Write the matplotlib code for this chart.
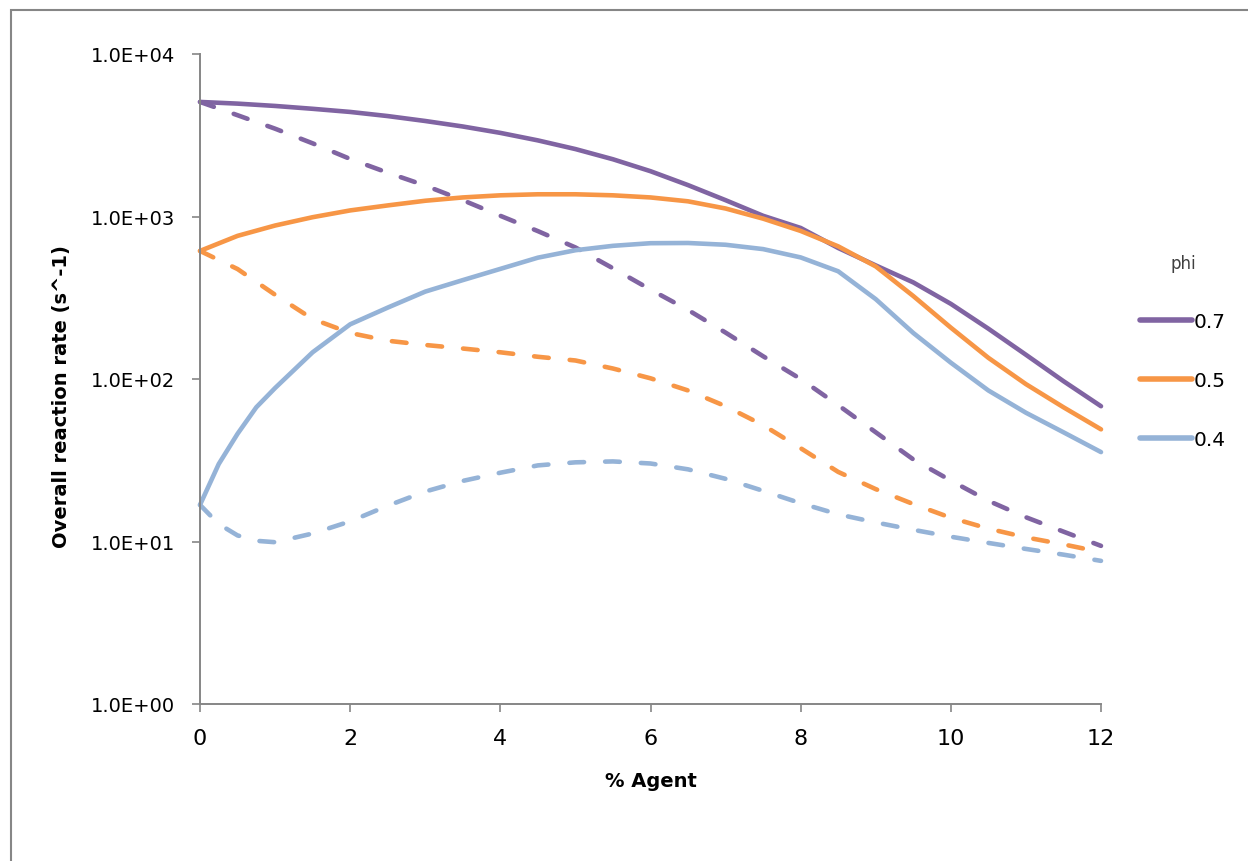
import numpy as np
import matplotlib
matplotlib.use("Agg")
from matplotlib import pyplot as plt
from matplotlib.lines import Line2D
from matplotlib.patches import Rectangle
from matplotlib.ticker import FixedLocator, FuncFormatter, NullLocator

# % agent values
x_half = [0, 0.5, 1, 1.5, 2, 2.5, 3, 3.5, 4, 4.5, 5, 5.5, 6, 6.5,
          7, 7.5, 8, 8.5, 9, 9.5, 10, 10.5, 11, 11.5, 12]
x_blue = [0, 0.25, 0.5, 0.75, 1, 1.5, 2, 2.5, 3, 3.5, 4, 4.5, 5, 5.5, 6, 6.5,
          7, 7.5, 8, 8.5, 9, 9.5, 10, 10.5, 11, 11.5, 12]

# phi = 0.7
rate_07_solid = [5070, 4950, 4790, 4600, 4400, 4150, 3870, 3580, 3270, 2940,
                 2600, 2250, 1900, 1560, 1260, 1010, 850, 640, 500, 393,
                 290, 204, 141, 97, 68]
rate_07_dash = [5070, 4200, 3470, 2820, 2260, 1860, 1550, 1260, 1010, 813,
                645, 480, 355, 266, 193, 138, 100, 69, 47, 32,
                23.7, 17.8, 14.1, 11.5, 9.4]
# phi = 0.5
rate_05_solid = [614, 760, 880, 990, 1090, 1170, 1250, 1310, 1350, 1370,
                 1370, 1350, 1310, 1240, 1120, 970, 815, 655, 493, 324,
                 207, 135, 93, 67, 49]
rate_05_dash = [614, 475, 330, 234, 192, 172, 162, 154, 146, 137,
                130, 116, 101, 85, 68, 52, 37.5, 26.8, 21, 17,
                14, 12, 10.6, 9.6, 8.6]
# phi = 0.4
rate_04_solid = [16.8, 30, 46, 67, 88, 146, 217, 275, 345, 406, 476, 558,
                 620, 660, 685, 687, 670, 630, 560, 460, 310, 192,
                 126, 85, 62, 47, 35.5]
rate_04_dash = [16.8, 12.8, 10.9, 10.1, 9.9, 11.2, 13.3, 16.6, 20.3, 23.6,
                26.5, 29.4, 30.7, 31.1, 30.2, 27.8, 24.3, 20.5, 17.2, 14.7,
                13.1, 11.8, 10.7, 9.8, 9.0, 8.3, 7.6]

phi_labels = ["0.7", "0.5", "0.4"]
colors = ["#8064A2", "#F79646", "#95B3D7"]
x_ticks = [0, 2, 4, 6, 8, 10, 12]
y_ticks = [1, 10, 100, 1000, 10000]

W, H = 1248, 862
fig = plt.figure(figsize=(W / 100, H / 100), dpi=100)
ax = fig.add_axes([200 / W, 1 - 705 / H, (1101 - 200) / W, (705 - 55) / H])

lw = 3.3
dash = (0, (3.2, 4.6))
series = [
    (x_half, rate_07_solid, x_half, rate_07_dash),
    (x_half, rate_05_solid, x_half, rate_05_dash),
    (x_blue, rate_04_solid, x_blue, rate_04_dash),
]
for (xs, ys, xd, yd), c in zip(series, colors):
    ax.plot(xd, yd, color=c, lw=lw, linestyle=dash,
            dash_capstyle="round", solid_joinstyle="round", clip_on=False)
for (xs, ys, xd, yd), c in zip(series, colors):
    ax.plot(xs, ys, color=c, lw=lw, solid_capstyle="round",
            solid_joinstyle="round", clip_on=False)

ax.set_yscale("log")
ax.set_xlim(0, 12)
ax.set_ylim(1, 10000)
ax.yaxis.set_major_locator(FixedLocator(y_ticks))
ax.yaxis.set_minor_locator(NullLocator())
ax.yaxis.set_major_formatter(FuncFormatter(lambda v, p: "1.0E+%02d" % int(round(np.log10(v)))))
ax.set_xticks(x_ticks)
ax.set_xticklabels([str(t) for t in x_ticks])

grey = "#868686"
for s in ["top", "right"]:
    ax.spines[s].set_visible(False)
for s in ["left", "bottom"]:
    ax.spines[s].set_color(grey)
    ax.spines[s].set_linewidth(1.4)
ax.tick_params(axis="both", which="major", direction="out", length=6,
               width=1.2, color=grey)
ax.tick_params(axis="y", labelsize=14, pad=12)
ax.tick_params(axis="x", labelsize=16, pad=11)

ax.set_xlabel("% Agent", fontsize=14, fontweight="bold", labelpad=17)
ax.set_ylabel("Overall reaction rate (s^-1)", fontsize=14, fontweight="bold")
ax.yaxis.set_label_coords(-0.143, 0.474)

handles = [Line2D([], [], color=c, lw=4, solid_capstyle="round") for c in colors]
leg = fig.legend(handles, phi_labels, title="phi", loc="upper left",
                 bbox_to_anchor=(1130 / W, 1 - 245 / H), frameon=False,
                 fontsize=14.5, handlelength=2.6, handletextpad=0.05,
                 labelspacing=1.98, borderpad=0)
leg.get_title().set_fontsize(12)
leg.get_title().set_color("#404040")

# outer chart frame (cut off on the right and bottom)
fig.patches.append(Rectangle((11 / W, -0.1), 2.0, 1.1 - 11 / H,
                             transform=fig.transFigure, fill=False,
                             edgecolor=grey, lw=1.5))

fig.savefig("out.png", dpi=100)
